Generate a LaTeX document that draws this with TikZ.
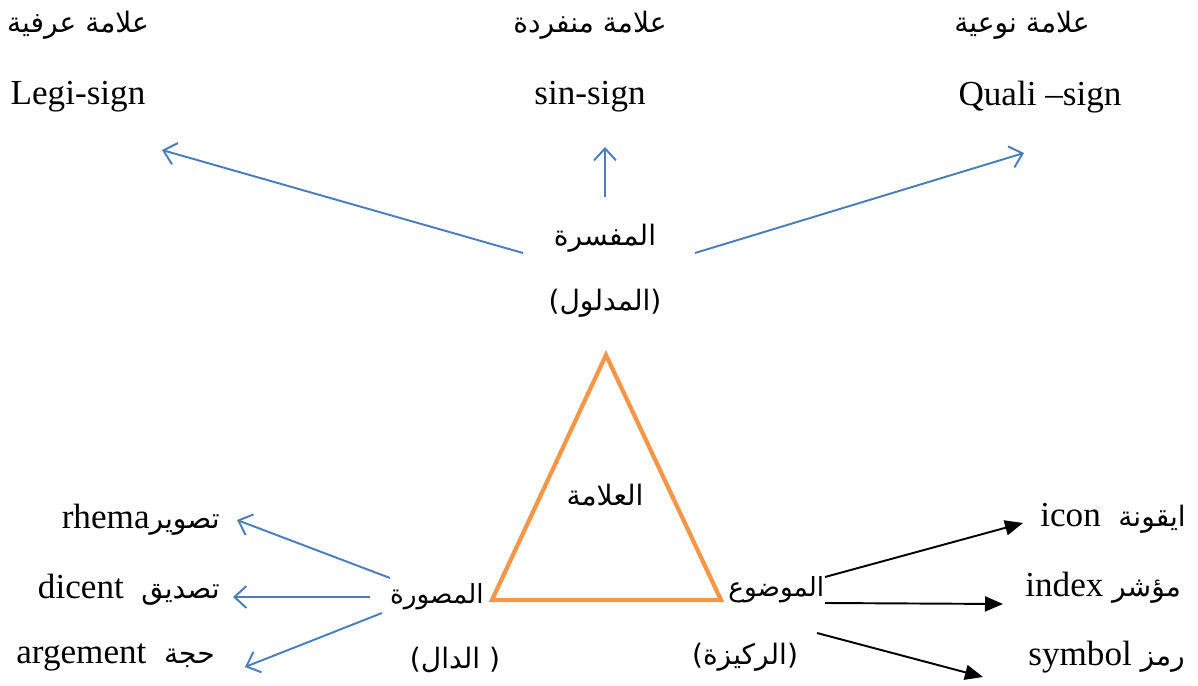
\documentclass[tikz,border=0pt]{standalone}
\usepackage{fontspec}
\setmainfont{Liberation Serif}
\newfontfamily\arabicfont[Script=Arabic]{DejaVu Sans}
\TeXXeTstate=1
\usepackage{tikz}
\usetikzlibrary{arrows.meta, calc, positioning}
\definecolor{peirceblue}{HTML}{4A7EBB}
\definecolor{peirceorange}{HTML}{F79646}

\begin{document}
\begin{tikzpicture}[x=0.02cm, y=-0.02cm,
    lat/.style={inner sep=0pt, font=\fontsize{20}{24}\selectfont},
    ar/.style={inner sep=0pt, font=\fontsize{16}{20}\selectfont\arabicfont},
    arsmall/.style={inner sep=0pt, font=\fontsize{15}{20}\selectfont\arabicfont},
    bluearrow/.style={-{Straight Barb[length=0.24cm, width=0.44cm]}, peirceblue, line width=1.1pt},
    blackarrow/.style={-{Triangle[length=0.36cm, width=0.3cm]}, black, line width=1.1pt},
    triangle/.style={peirceorange, line width=2.4pt, line join=miter}
]
\useasboundingbox (0,0) rectangle (1198,686);

\node[ar] (urfiya) at (78,25) {\beginR علامة عرفية\endR};
\node[lat] (legi) at (78,97) {Legi-sign};
\node[ar] (munfarida) at (590,25) {\beginR علامة منفردة\endR};
\node[lat] (sinsign) at (590,97) {sin-sign};
\node[ar] (nawiya) at (1022,25) {\beginR علامة نوعية\endR};
\node[lat] (quali) at (1040,97) {Quali --sign};

\node[ar] (mufassira) at (605,238) {\beginR المفسرة\endR};
\node[ar] (madlul) at (605,303) {\beginR(المدلول)\endR};

\coordinate (apex) at (606,355);
\coordinate (baseleft) at (492,600);
\coordinate (baseright) at (721,600);
\draw[triangle] (apex) -- (baseright) -- (baseleft) -- cycle;
\node[ar] (sign) at (605,495) {\beginR العلامة\endR};

\node[arsmall, anchor=east] (musawwira) at (484,597) {\beginR المصورة\endR};
\node[ar] (dal) at (455,660) {\beginR( الدال)\endR};
\node[lat, anchor=east] (rhema) at (220,520) {rhema{\arabicfont\fontsize{16}{20}\selectfont\beginR تصوير\endR}};
\node[lat, anchor=east] (dicent) at (220,590) {dicent\ \ {\arabicfont\fontsize{16}{20}\selectfont\beginR تصديق\endR}};
\node[lat, anchor=east] (argement) at (215,657) {argement\ \ {\arabicfont\fontsize{16}{20}\selectfont\beginR حجة\endR}};

\node[arsmall, anchor=west] (mawdu) at (728,590) {\beginR الموضوع\endR};
\node[ar] (rakiza) at (745,657) {\beginR(الركيزة)\endR};
\node[lat, anchor=west] (icon) at (1040,518) {icon\ \ {\arabicfont\fontsize{16}{20}\selectfont\beginR ايقونة\endR}};
\node[lat, anchor=west] (index) at (1025,588) {index {\arabicfont\fontsize{16}{20}\selectfont\beginR مؤشر\endR}};
\node[lat, anchor=west] (symbol) at (1028,657) {symbol {\arabicfont\fontsize{16}{20}\selectfont\beginR رمز\endR}};

\draw[bluearrow] ($(mufassira)+(-82,15)$) -- ($(legi)+(84,53)$);
\draw[bluearrow] ($(mufassira)+(0,-41)$) -- ($(sinsign)+(15,50)$);
\draw[bluearrow] ($(mufassira)+(90,15)$) -- ($(quali)+(-16,56)$);

\draw[bluearrow] ($(musawwira.east)+(-94,-19)$) -- ($(rhema.east)+(17,0)$);
\draw[bluearrow] ($(musawwira.east)+(-114,0)$) -- ($(dicent.east)+(13,7)$);
\draw[bluearrow] ($(musawwira.east)+(-102,16)$) -- ($(argement.east)+(30,10)$);

\draw[blackarrow] ($(mawdu.west)+(97,-13)$) -- ($(icon.west)+(-17,5)$);
\draw[blackarrow] ($(mawdu.west)+(97,13)$) -- ($(index.west)+(-22,16)$);
\draw[blackarrow] ($(mawdu.west)+(89,43)$) -- ($(symbol.west)+(-45,20)$);
\end{tikzpicture}
\end{document}
